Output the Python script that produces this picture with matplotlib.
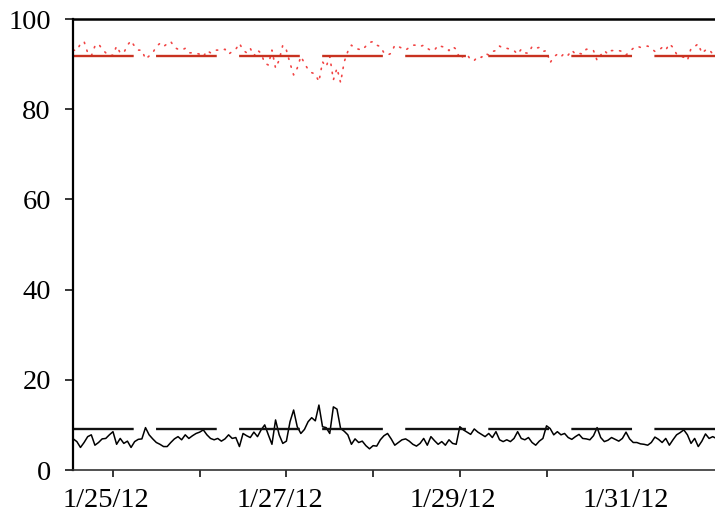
from datetime import datetime, timedelta

from matplotlib import pyplot as plt
import matplotlib.dates as mdates
import matplotlib.ticker as mticker
import matplotlib.transforms as mtransforms

plt.rcParams['font.family'] = ['Liberation Serif', 'DejaVu Serif']
plt.rcParams['lines.scale_dashes'] = False

# hourly readings, first one on 1/24/12 at 13:00
inicio = datetime(2012, 1, 24, 13, 0)

serie_negra = [6.9, 6.3, 5.0, 6.1, 7.4, 7.8, 5.5, 6.1, 6.9, 7.0,
               7.8, 8.5, 5.7, 7.0, 5.9, 6.4, 5.0, 6.3, 6.8, 6.9,
               9.4, 7.8, 6.9, 6.1, 5.7, 5.2, 5.2, 6.1, 6.9, 7.4,
               6.7, 7.8, 7.0, 7.6, 8.1, 8.4, 8.9, 7.8, 7.0, 6.7,
               7.0, 6.4, 6.9, 7.8, 7.0, 7.2, 5.2, 8.1, 7.6, 7.2,
               8.4, 7.4, 8.9, 10.0, 7.8, 5.7, 11.1, 7.8, 5.9, 6.4,
               10.7, 13.3, 9.6, 8.1, 9.0, 10.7, 11.6, 10.9, 14.4, 9.6,
               9.4, 8.1, 14.0, 13.5, 9.2, 8.6, 7.8, 5.7, 6.9, 6.1,
               6.4, 5.4, 4.7, 5.4, 5.3, 6.7, 7.6, 8.1, 6.9, 5.5,
               6.1, 6.7, 6.9, 6.4, 5.7, 5.3, 5.9, 7.0, 5.5, 7.4,
               6.5, 5.7, 6.3, 5.5, 6.7, 5.9, 5.7, 9.6, 8.9, 8.4,
               7.9, 9.1, 8.4, 7.9, 7.4, 8.1, 7.2, 8.5, 6.7, 6.3,
               6.7, 6.3, 7.0, 8.5, 7.0, 6.7, 7.2, 6.1, 5.5, 6.4,
               7.0, 9.8, 9.2, 7.8, 8.5, 7.8, 8.1, 7.2, 6.8, 7.4,
               7.9, 7.0, 6.9, 6.7, 7.6, 9.4, 7.2, 6.3, 6.6, 7.2,
               6.8, 6.4, 7.0, 8.4, 6.9, 6.1, 6.1, 5.8, 5.7, 5.5,
               6.1, 7.3, 6.8, 6.1, 7.0, 5.5, 6.7, 7.8, 8.3, 8.9,
               7.8, 5.9, 7.0, 5.2, 6.4, 8.0, 7.0, 7.4, 7.0]

serie_roja = [93.1, 93.0, 94.5, 95.0, 92.5, 91.8, 94.0, 94.5, 93.3, 92.5,
              91.8, 92.0, 94.0, 92.5, 92.5, 94.2, 95.2, 93.9, 93.1, 93.1,
              91.1, 91.8, 92.5, 93.9, 94.6, 93.9, 94.5, 95.0, 93.7, 93.3,
              93.1, 93.5, 92.5, 92.5, 92.4, 92.2, 91.6, 93.0, 92.5, 93.1,
              93.1, 93.0, 93.3, 92.2, 92.8, 93.3, 94.6, 93.1, 92.5, 93.5,
              91.8, 93.1, 92.4, 90.2, 89.8, 93.1, 89.1, 90.9, 94.2, 93.1,
              90.2, 87.6, 89.1, 91.7, 90.2, 88.8, 88.1, 87.8, 86.1, 90.5,
              89.4, 91.7, 86.5, 89.1, 85.9, 90.5, 92.8, 94.2, 93.5, 93.3,
              93.1, 94.0, 94.8, 95.0, 94.2, 93.9, 92.5, 92.0, 92.4, 94.2,
              93.9, 93.5, 93.1, 93.7, 94.2, 94.2, 93.9, 94.2, 93.5, 93.0,
              93.1, 94.2, 93.9, 93.7, 93.0, 93.9, 93.3, 91.1, 91.8, 92.2,
              90.9, 90.8, 91.7, 91.5, 92.4, 92.0, 92.8, 93.0, 94.0, 93.5,
              93.5, 93.3, 93.0, 92.2, 93.3, 92.5, 92.4, 93.9, 93.5, 93.7,
              92.8, 93.0, 90.3, 91.6, 92.2, 91.6, 92.5, 92.0, 93.1, 92.2,
              92.4, 92.2, 93.3, 93.3, 93.0, 90.8, 92.0, 93.0, 92.2, 93.0,
              93.0, 93.0, 92.8, 92.0, 92.8, 93.5, 94.0, 93.7, 93.9, 94.0,
              93.5, 92.8, 93.0, 93.7, 93.1, 94.5, 93.7, 92.2, 91.8, 91.5,
              90.8, 93.5, 93.9, 94.5, 92.4, 93.1, 93.3, 92.2, 92.4]

limite_rojo = 91.7
limite_negro = 9.1

etiquetas_y = [0, 20, 40, 60, 80, 100]

tiempos = [inicio + timedelta(hours=i) for i in range(len(serie_negra))]

fig = plt.figure(figsize=(7.15, 5.22), dpi=100)
ax = fig.add_axes([0.1021, 0.0996, 0.8979, 0.864])

# serie roja punteada (puntos sueltos a lo largo del trazo)
ax.plot(tiempos, serie_roja, color='#f03030', linewidth=1.2,
        dashes=(0.9, 5.0), dash_capstyle='round', alpha=0.9)
ax.plot(tiempos, serie_negra, color='black', linewidth=1.1)

# lineas de referencia a trazos largos
ax.axhline(limite_rojo, color='#c83220', linewidth=1.7, dashes=(43.7, 16.1))
ax.axhline(limite_negro, color='#111111', linewidth=1.7, dashes=(43.7, 16.1))

x0 = datetime(2012, 1, 24, 12, 56)
ax.set_xlim(x0, x0 + timedelta(hours=177.7))
ax.set_ylim(0, 100)

ax.xaxis.set_major_locator(mdates.DayLocator(bymonthday=[25, 27, 29, 31]))
ax.xaxis.set_minor_locator(mdates.DayLocator())
ax.xaxis.set_major_formatter(
    mticker.FuncFormatter(lambda v, pos: "{d.month}/{d.day}/{y}".format(
        d=mdates.num2date(v), y=mdates.num2date(v).strftime('%y'))))
ax.set_yticks(etiquetas_y)

ax.tick_params(axis='both', which='both', direction='out', width=1.1, labelsize=20.5)
ax.tick_params(axis='x', which='both', length=5, pad=8)
ax.tick_params(axis='y', length=6, pad=10)

desplazamiento = mtransforms.ScaledTranslation(-5 / 72, 0, fig.dpi_scale_trans)
for lab in ax.get_xticklabels():
    lab.set_transform(lab.get_transform() + desplazamiento)

ax.spines['right'].set_visible(False)
ax.spines['top'].set_linewidth(1.8)
ax.spines['left'].set_linewidth(1.6)
ax.spines['bottom'].set_linewidth(1.2)
ax.spines['bottom'].set_color('#333333')

plt.savefig("out.png", dpi=100)
